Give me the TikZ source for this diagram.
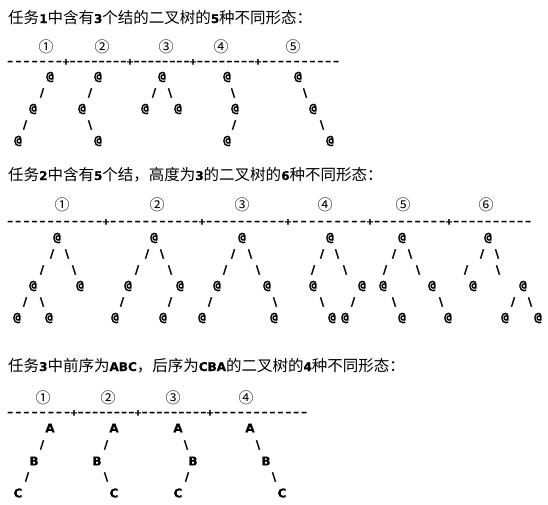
\documentclass[tikz,border=0pt]{standalone}
\usepackage{fontspec}
\newfontfamily\cjk{Noto Sans CJK SC}
\newfontfamily\dvs{DejaVu Sans}
\newfontfamily\dvmb{DejaVu Sans Mono Bold}[FakeBold=1.2]
\newfontfamily\dvsb{DejaVu Sans Bold}[FakeBold=0.8]
\newcommand\dg[1]{{\dvsb\fontsize{12}{12}\selectfont #1}}
\newcommand\dsh{{\dvs\bfseries\fontsize{12.5}{12}\selectfont –}}
\newcommand\dseg[1]{\foreach \i in {1,...,#1}{\hss\dsh\hss}}
\newcommand\bsl{\textbackslash}
\tikzset{
  gl/.style={inner sep=0pt, anchor=center, font=\dvsb\fontsize{11.5}{12}\selectfont},
  letr/.style={inner sep=0pt, anchor=center, font=\dvsb\fontsize{12}{12}\selectfont},
  atsign/.style={inner sep=0pt, anchor=center, font=\dvmb\fontsize{12.5}{12}\selectfont},
  seg/.style={inner sep=0pt, anchor=base west},
  pl/.style={inner sep=0pt, anchor=base, font=\dvsb\fontsize{9}{9}\selectfont},
  circ/.style={inner sep=0pt, anchor=center, font=\cjk\fontsize{15}{15}\selectfont},
  ttl/.style={inner sep=0pt, anchor=base west, font=\cjk\fontsize{15.5}{16}\selectfont}
}
\newcommand\putg[3]{\node[gl] (#1) at (#2) {#3};}
\newcommand\putl[3]{\node[letr] (#1) at (#2) {#3};}
\newcommand\puta[2]{\node[atsign] (#1) at (#2) {@};}
\newcommand\segnode[5]{\node[seg] (#1) at (#2,#3) {\hbox to #4pt{\dseg{#5}}};}
\newcommand\plnode[3]{\node[pl] (#1) at (#2,#3) {\raisebox{0.8pt}{+}};}
\begin{document}
\begin{tikzpicture}[x=1pt,y=-1pt]
\useasboundingbox[fill=white] (0,0) rectangle (548,504);
% ---------- Section 1 ----------
\node[ttl] (t1) at (8,23) {任务\dg{1}中含有\dg{3}个结的二叉树的\dg{5}种不同形态：};
\node[circ] (c11) at (46,47) {①};
\node[circ] (c12) at (102,47) {②};
\node[circ] (c13) at (166,47) {③};
\node[circ] (c14) at (221,47) {④};
\node[circ] (c15) at (293,47) {⑤};
\segnode{s11}{6}{65.5}{57}{7}
\plnode{p11}{66}{65.5}
\segnode{s12}{69}{65.5}{58}{8}
\plnode{p12}{130}{65.5}
\segnode{s13}{133}{65.5}{57}{8}
\plnode{p13}{193}{65.5}
\segnode{s14}{196}{65.5}{59}{8}
\plnode{p14}{258}{65.5}
\segnode{s15}{261}{65.5}{79}{10}
% tree 1
\puta{a1}{50,77}\putg{a1s}{42,93}{/}\puta{a2}{33,109}\putg{a2s}{25,125}{/}\puta{a3}{18,141}
% tree 2
\puta{b1}{98,77}\putg{b1s}{90,93}{/}\puta{b2}{82,109}\putg{b2s}{90,125}{\bsl}\puta{b3}{98,141}
% tree 3
\puta{c1}{162,77}\putg{c1s}{154,93}{/}\putg{c1t}{170,93}{\bsl}\puta{c2}{145,109}\puta{c3}{178,109}
% tree 4
\puta{d1}{227,77}\putg{d1s}{233,93}{\bsl}\puta{d2}{235,109}\putg{d2s}{234,125}{/}\puta{d3}{227,141}
% tree 5
\puta{e1}{298,77}\putg{e1s}{305,93}{\bsl}\puta{e2}{313,109}\putg{e2s}{322,125}{\bsl}\puta{e3}{330,141}
% ---------- Section 2 ----------
\node[ttl] (t2) at (8,180) {任务\dg{2}中含有\dg{5}个结，高度为\dg{3}的二叉树的\dg{6}种不同形态：};
\node[circ] (c21) at (62,205) {①};
\node[circ] (c22) at (157,205) {②};
\node[circ] (c23) at (242,205) {③};
\node[circ] (c24) at (325,205) {④};
\node[circ] (c25) at (403,205) {⑤};
\node[circ] (c26) at (486,205) {⑥};
\segnode{s21}{6}{225.5}{97}{12}
\plnode{p21}{106}{225.5}
\segnode{s22}{109}{225.5}{90}{11}
\plnode{p22}{202}{225.5}
\segnode{s23}{205}{225.5}{80}{10}
\plnode{p23}{288}{225.5}
\segnode{s24}{291}{225.5}{76}{9}
\plnode{p24}{370}{225.5}
\segnode{s25}{373}{225.5}{73}{9}
\plnode{p25}{449}{225.5}
\segnode{s26}{452}{225.5}{80}{10}
% tree 1
\puta{f1}{57,238}\putg{f1s}{52,254}{/}\putg{f1t}{67,254}{\bsl}
\putg{f2s}{42,270}{/}\putg{f2t}{74,270}{\bsl}
\puta{f2}{33,286}\puta{f3}{80,286}
\putg{f3s}{25,302}{/}\putg{f3t}{42,302}{\bsl}
\puta{f4}{17,318}\puta{f5}{49,318}
% tree 2
\puta{g1}{154,238}\putg{g1s}{147,254}{/}\putg{g1t}{162,254}{\bsl}
\putg{g2s}{137,270}{/}\putg{g2t}{170,270}{\bsl}
\puta{g2}{128,286}\puta{g3}{180,286}
\putg{g3s}{122,302}{/}\putg{g3t}{170,302}{/}
\puta{g4}{115,318}\puta{g5}{163,318}
% tree 3
\puta{h1}{242,238}\putg{h1s}{233,254}{/}\putg{h1t}{250,254}{\bsl}
\putg{h2s}{225,270}{/}\putg{h2t}{258,270}{\bsl}
\puta{h2}{217,286}\puta{h3}{267,286}
\putg{h3s}{210,302}{/}\putg{h3t}{275,302}{\bsl}
\puta{h4}{202,318}\puta{h5}{274,318}
% tree 4
\puta{i1}{330,238}\putg{i1s}{322,254}{/}\putg{i1t}{337,254}{\bsl}
\putg{i2s}{313,270}{/}\putg{i2t}{345,270}{\bsl}
\puta{i2}{313,286}\puta{i3}{362,286}
\putg{i3s}{322,302}{\bsl}\putg{i3t}{353,302}{/}
\puta{i4}{332,318}\puta{i5}{345,318}
% tree 5
\puta{j1}{402,238}\putg{j1s}{394,254}{/}\putg{j1t}{410,254}{\bsl}
\putg{j2s}{385,270}{/}\putg{j2t}{418,270}{\bsl}
\puta{j2}{383,286}\puta{j3}{432,286}
\putg{j3s}{394,302}{\bsl}\putg{j3t}{441,302}{\bsl}
\puta{j4}{402,318}\puta{j5}{448,318}
% tree 6
\puta{k1}{488,238}\putg{k1s}{482,254}{/}\putg{k1t}{497,254}{\bsl}
\putg{k2s}{466,270}{/}\putg{k2t}{498,270}{\bsl}
\puta{k2}{473,286}\puta{k3}{523,286}
\putg{k3s}{513,302}{/}\putg{k3t}{530,302}{\bsl}
\puta{k4}{505,318}\puta{k5}{538,318}
% ---------- Section 3 ----------
\node[ttl] (t3) at (8,371) {任务\dg{3}中前序为\dg{ABC}，后序为\dg{CBA}的二叉树的\dg{4}种不同形态：};
\node[circ] (c31) at (43,398) {①};
\node[circ] (c32) at (108,398) {②};
\node[circ] (c33) at (173,398) {③};
\node[circ] (c34) at (246,398) {④};
\segnode{s31}{6}{416.5}{65}{8}
\plnode{p31}{74}{416.5}
\segnode{s32}{77}{416.5}{58}{8}
\plnode{p32}{138}{416.5}
\segnode{s33}{141}{416.5}{66}{9}
\plnode{p33}{210}{416.5}
\segnode{s34}{213}{416.5}{95}{12}
% tree 1
\putl{m1}{50,428}{A}\putg{m1s}{42,445}{/}\putl{m2}{34,461}{B}\putg{m2s}{27,477}{/}\putl{m3}{18,493}{C}
% tree 2
\putl{n1}{114,428}{A}\putg{n1s}{106,445}{/}\putl{n2}{97,461}{B}\putg{n2s}{106,477}{\bsl}\putl{n3}{114,493}{C}
% tree 3
\putl{o1}{178,428}{A}\putg{o1s}{186,445}{\bsl}\putl{o2}{193,461}{B}\putg{o2s}{187,477}{/}\putl{o3}{178,493}{C}
% tree 4
\putl{q1}{250,428}{A}\putg{q1s}{258,445}{\bsl}\putl{q2}{266,461}{B}\putg{q2s}{274,477}{\bsl}\putl{q3}{282,493}{C}
\end{tikzpicture}
\end{document}
